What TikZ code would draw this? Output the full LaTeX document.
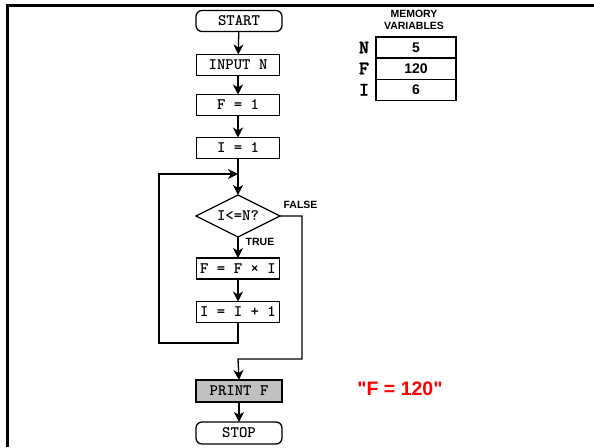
\documentclass[tikz,border=0pt]{standalone}
\usepackage{fontspec}
\usetikzlibrary{shapes.geometric,arrows.meta}
\newfontfamily\arialf{Liberation Sans}
\newfontfamily\courbold{lmmonolt10-bold.otf}
\newfontfamily\courheavy[FakeBold=1.5]{lmmonolt10-bold.otf}
\definecolor{boxgray}{HTML}{C0C0C0}
\begin{document}
\begin{tikzpicture}[x=1pt,y=-1pt,
  every node/.style={inner sep=0pt, outer sep=0pt},
  flowbox/.style={draw, line width=1.3pt, minimum width=83pt, minimum height=21pt, font=\courbold\fontsize{16}{18}\selectfont},
  termbox/.style={flowbox, rounded corners=6pt, minimum width=86pt},
  decbox/.style={draw, line width=1.3pt, diamond, shape aspect=2, minimum width=84pt, minimum height=42pt, font=\courbold\fontsize{16}{18}\selectfont},
  conn/.style={line width=1.3pt},
  arr/.style={conn, -{Stealth[length=10pt,width=10pt,inset=3pt]}},
  lbl/.style={font=\arialf\bfseries\fontsize{10.5}{12}\selectfont},
  memcell/.style={draw, line width=1.3pt, minimum width=80pt, minimum height=21.3pt, font=\arialf\bfseries\fontsize{14}{16}\selectfont},
  memlbl/.style={font=\courheavy\fontsize{19}{21}\selectfont}
]
\useasboundingbox (0,0) rectangle (594,447);
% frame
\draw[line width=3pt] (7,447) -- (7,5) -- (594,5);

% flowchart
\node[termbox] (start) at (239,21) {START};
\node[flowbox] (input) at (238,65) {INPUT N};
\node[flowbox] (fone) at (238,105) {F = 1};
\node[flowbox] (ione) at (238,148) {I = 1};
\coordinate (junc) at (238,174);
\node[decbox] (dec) at (238,216) {I<=N?};
\node[flowbox] (fmul) at (238,268.5) {F = F × I};
\node[flowbox] (iinc) at (238,312) {I = I + 1};
\node[flowbox, fill=boxgray, minimum width=86pt, minimum height=22pt] (print) at (239,391) {PRINT F};
\node[termbox, minimum height=22pt] (stop) at (239,433) {STOP};

\coordinate (loopA) at (238,343);
\coordinate (loopB) at (159,343);
\coordinate (loopC) at (159,174);
\coordinate (falseA) at (302,216);
\coordinate (falseB) at (302,359);
\coordinate (falseC) at (238,359);

\draw[arr] (start) -- (input);
\draw[arr] (input) -- (fone);
\draw[arr] (fone) -- (ione);
\draw[arr] (ione) -- (dec.north);
\draw[arr] (iinc.south) -- (loopA) -- (loopB) -- (loopC) -- (junc);
\draw[arr] (dec.south) -- (fmul);
\draw[arr] (fmul) -- (iinc);
\draw[arr] (dec.east) -- (falseA) -- (falseB) -- (falseC) -- (print.north);
\draw[arr] (print) -- (stop);

\node[lbl] (tfalse) at (300.5,205) {FALSE};
\node[lbl] (ttrue) at (260,242) {TRUE};

% result
\node[font=\arialf\bfseries\fontsize{19.5}{22}\selectfont, text=red] (result) at (400,389) {"F = 120"};

% memory table
\node[lbl, align=center, font=\arialf\bfseries\fontsize{10.5}{12}\selectfont] (memtitle) at (414,19.5) {MEMORY\\VARIABLES};
\node[memcell] (mN) at (416,47.5) {5};
\node[memcell] (mF) at (416,68.5) {120};
\node[memcell] (mI) at (416,89.8) {6};
\node[memlbl] (lN) at (364,47.5) {N};
\node[memlbl] (lF) at (364,68.5) {F};
\node[memlbl] (lI) at (364,89.8) {I};
\end{tikzpicture}
\end{document}
